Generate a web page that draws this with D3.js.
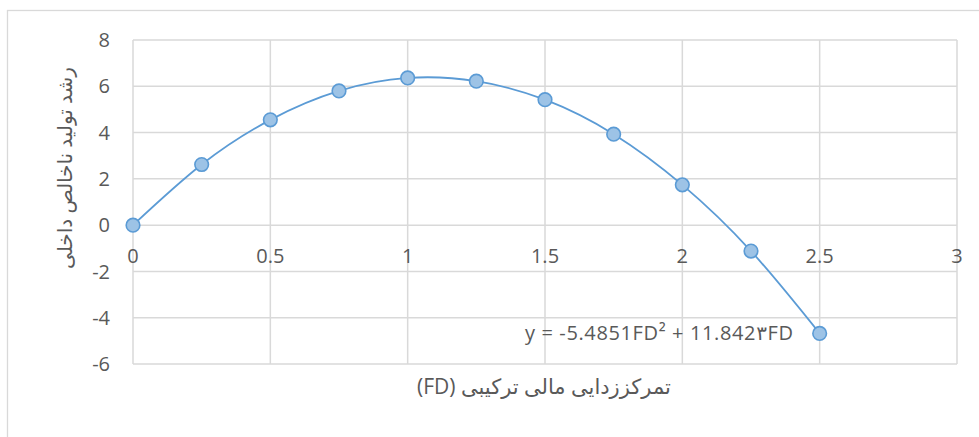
<!DOCTYPE html>
<html>
<head>
<meta charset="utf-8">
<script src="https://cdn.jsdelivr.net/npm/d3@7"></script>
<style>
  body { margin: 0; background: #fff; }
  text { font-family: "Open Sans", "DejaVu Sans", sans-serif; fill: #595959; }
</style>
</head>
<body>
<div id="chart"></div>
<script>
// values
var fdValues = [0, 0.25, 0.5, 0.75, 1, 1.25, 1.5, 1.75, 2, 2.25, 2.5]
var gdpGrowth = [0, 2.62, 4.55, 5.8, 6.36, 6.22, 5.42, 3.93, 1.74, -1.12, -4.68]
var xTicks = [0, 0.5, 1, 1.5, 2, 2.5, 3]
var yTicks = [-6, -4, -2, 0, 2, 4, 6, 8]
var xTitle = "تمرکززدایی مالی ترکیبی (FD)"
var yTitle = "رشد تولید ناخالص داخلی"
var equation = "y = -5.4851FD² + 11.842۳FD"

var width = 979, height = 437
var margin = {top: 40, right: 22, bottom: 73, left: 133}

var svg = d3.select("#chart")
  .append("svg")
    .attr("width", width)
    .attr("height", height)

// outer chart frame (runs off the right and bottom edges)
svg.append("rect")
  .attr("x", 7.5).attr("y", 10.5)
  .attr("width", 990).attr("height", 450)
  .attr("fill", "none")
  .attr("stroke", "#d9d9d9")
  .attr("stroke-width", 1.3)

var x = d3.scaleLinear()
  .domain([0, 3])
  .range([margin.left, width - margin.right])

var y = d3.scaleLinear()
  .domain([-6, 8])
  .range([height - margin.bottom, margin.top])

// gridlines
svg.append("g")
  .selectAll("line.h")
  .data(yTicks)
  .enter().append("line")
    .attr("x1", x(0)).attr("x2", x(3))
    .attr("y1", function(d) { return y(d) }).attr("y2", function(d) { return y(d) })
    .attr("stroke", "#d9d9d9").attr("stroke-width", 1.5)

svg.append("g")
  .selectAll("line.v")
  .data(xTicks)
  .enter().append("line")
    .attr("x1", function(d) { return x(d) }).attr("x2", function(d) { return x(d) })
    .attr("y1", y(8)).attr("y2", y(-6))
    .attr("stroke", "#d9d9d9").attr("stroke-width", 1.5)

// y tick labels
svg.append("g")
  .selectAll("text")
  .data(yTicks)
  .enter().append("text")
    .attr("x", 110)
    .attr("y", function(d) { return y(d) })
    .attr("dy", "0.36em")
    .attr("text-anchor", "end")
    .attr("font-size", 20)
    .text(function(d) { return d })

// x tick labels sit under the zero line
svg.append("g")
  .selectAll("text")
  .data(xTicks)
  .enter().append("text")
    .attr("x", function(d) { return x(d) })
    .attr("y", y(0) + 38)
    .attr("text-anchor", "middle")
    .attr("font-size", 20)
    .text(function(d) { return d })

// trend curve through the points
var line = d3.line()
  .x(function(d, i) { return x(fdValues[i]) })
  .y(function(d) { return y(d) })
  .curve(d3.curveNatural)

svg.append("path")
  .datum(gdpGrowth)
  .attr("fill", "none")
  .attr("stroke", "#5b9bd5")
  .attr("stroke-width", 1.8)
  .attr("d", line)

svg.append("g")
  .selectAll("circle")
  .data(gdpGrowth)
  .enter().append("circle")
    .attr("cx", function(d, i) { return x(fdValues[i]) })
    .attr("cy", function(d) { return y(d) })
    .attr("r", 6.8)
    .attr("fill", "#9dc3e6")
    .attr("stroke", "#5b9bd5")
    .attr("stroke-width", 1.6)

svg.append("text")
  .attr("x", 525)
  .attr("y", 340)
  .attr("font-size", 20)
  .attr("textLength", 268)
  .text(equation)

// axis titles
svg.append("text")
  .attr("x", 544)
  .attr("y", 394)
  .attr("text-anchor", "middle")
  .attr("direction", "rtl")
  .attr("font-size", 21)
  .text(xTitle)

svg.append("text")
  .attr("transform", "translate(72,168) rotate(-90)")
  .attr("text-anchor", "middle")
  .attr("direction", "rtl")
  .attr("font-size", 20)
  .text(yTitle)
</script>
</body>
</html>
